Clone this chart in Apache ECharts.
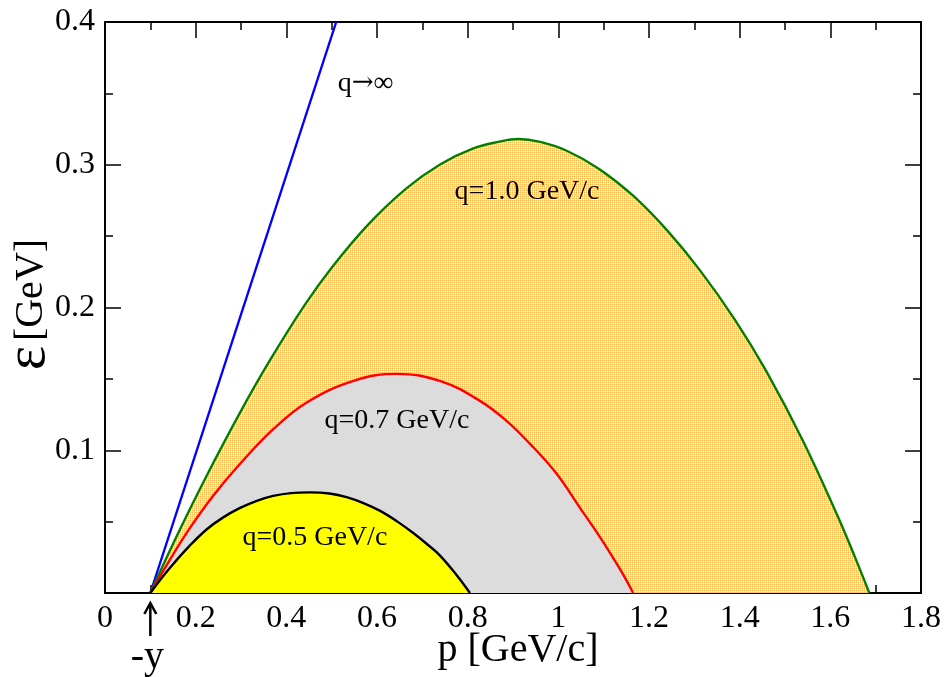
<!DOCTYPE html>
<html>
<head>
<meta charset="utf-8">
<script src="https://cdn.jsdelivr.net/npm/echarts@6/dist/echarts.min.js"></script>
<style>
  html, body { margin: 0; padding: 0; background: #fff; }
  #chart { width: 946px; height: 677px; }
</style>
</head>
<body>
<div id="chart"></div>
<script>
// Kinematic boundaries in the (p, epsilon) plane, values in GeV/c and GeV.
const qInfLine = [[0.1, 0], [0.51, 0.4]];
const q10Edge = [
  [0.1, 0], [0.16, 0.041], [0.224, 0.082], [0.30, 0.1276], [0.364, 0.1631],
  [0.44, 0.2015], [0.50, 0.2279], [0.58, 0.2579], [0.6655, 0.2836], [0.74, 0.3004],
  [0.8125, 0.3115], [0.87, 0.3162], [0.911, 0.318], [0.96, 0.316], [1.0185, 0.3098],
  [1.09, 0.2971], [1.165, 0.2783], [1.24, 0.254], [1.3125, 0.226], [1.39, 0.1912],
  [1.4596, 0.1549], [1.54, 0.1063], [1.617, 0.0532], [1.655, 0.0246], [1.686, 0]
];
const q07Edge = [
  [0.1, 0], [0.14, 0.0217], [0.1875, 0.0456], [0.24, 0.0687], [0.298, 0.0905],
  [0.37, 0.1144], [0.445, 0.1335], [0.55, 0.1488], [0.645, 0.1535], [0.74, 0.1484],
  [0.827, 0.1346], [0.885, 0.1208], [0.9375, 0.1045], [0.995, 0.084], [1.048, 0.0595],
  [1.09, 0.040], [1.121, 0.0245], [1.145, 0.0118], [1.165, 0]
];
const q05Edge = [
  [0.1, 0], [0.125, 0.0105], [0.151, 0.0205], [0.185, 0.0325], [0.224, 0.0445],
  [0.26, 0.0528], [0.298, 0.0596], [0.335, 0.0646], [0.371, 0.068], [0.41, 0.07],
  [0.452, 0.0705], [0.495, 0.0697], [0.533, 0.0672], [0.57, 0.063], [0.607, 0.0575],
  [0.645, 0.050], [0.680, 0.042], [0.712, 0.0338], [0.739, 0.0262], [0.775, 0.0128],
  [0.805, 0]
];

// Axis ranges and tick spacing.
const xRange = { min: 0, max: 1.8, step: 0.2 };
const yRange = { min: 0, max: 0.4, step: 0.1 };

// Curve captions, anchored in data coordinates.
const curveLabels = [
  { text: 'q{a|\u2192}\u221e', at: [0.575, 0.357] },
  { text: 'q=1.0 GeV/c', at: [0.931, 0.281] },
  { text: 'q=0.7 GeV/c', at: [0.644, 0.121] },
  { text: 'q=0.5 GeV/c', at: [0.463, 0.0385] }
];
const yMarker = { text: '-y', p: 0.1 };

const SERIF = '"Liberation Serif", "Times New Roman", Times, serif';

function dotPattern() {
  const c = document.createElement('canvas');
  c.width = 2; c.height = 2;
  const g = c.getContext('2d');
  g.fillStyle = '#ffffff'; g.fillRect(0, 0, 2, 2);
  g.fillStyle = '#ffb84d'; g.fillRect(0, 0, 1, 1);
  g.fillStyle = '#ffe0b0'; g.fillRect(1, 0, 1, 1); g.fillRect(0, 1, 1, 1);
  return c;
}

function frameAxis(pos, range, withLabels, fmt) {
  return {
    type: 'value',
    position: pos,
    min: range.min, max: range.max, interval: range.step,
    axisLine: { show: true, onZero: false, lineStyle: { color: '#000', width: 2 } },
    axisTick: { show: true, inside: true, length: 16, lineStyle: { color: '#000', width: 1.5 } },
    minorTick: { show: true, splitNumber: 2, length: 8, lineStyle: { color: '#000', width: 1.5 } },
    splitLine: { show: false },
    minorSplitLine: { show: false },
    axisLabel: {
      show: withLabels, color: '#000', fontFamily: SERIF, fontSize: 32, margin: 10,
      formatter: fmt
    }
  };
}

function areaSeries(data, fill) {
  return {
    type: 'line', data, smooth: 0.4, symbol: 'none',
    lineStyle: { width: 0, opacity: 0 },
    areaStyle: { color: fill, opacity: 1 },
    silent: true, z: 1
  };
}
function edgeSeries(data, color, smooth) {
  return {
    type: 'line', data, smooth: smooth ? 0.4 : false, symbol: 'none',
    lineStyle: { color, width: 2.4 }, silent: true, z: 3
  };
}

const chart = echarts.init(document.getElementById('chart'), null, { renderer: 'canvas' });

chart.setOption({
  animation: false,
  backgroundColor: '#fff',
  grid: { left: 105, right: 25, top: 22, bottom: 84, containLabel: false },
  xAxis: [
    frameAxis('bottom', xRange, true, v => String(+v.toFixed(2))),
    frameAxis('top', xRange, false)
  ],
  yAxis: [
    frameAxis('left', yRange, true, v => (v === 0 ? '' : String(+v.toFixed(2)))),
    frameAxis('right', yRange, false)
  ],
  series: [
    areaSeries(q10Edge, { image: dotPattern(), repeat: 'repeat' }),
    areaSeries(q07Edge, '#dcdcdc'),
    areaSeries(q05Edge, '#ffff00'),
    edgeSeries(qInfLine, '#0000ff', false),
    edgeSeries(q10Edge, '#008000', true),
    edgeSeries(q07Edge, '#ff0000', true),
    edgeSeries(q05Edge, '#000000', true)
  ]
});

// Captions, marker and axis titles.
const graphics = curveLabels.map(l => {
  const [x, y] = chart.convertToPixel({ xAxisIndex: 0, yAxisIndex: 0 }, l.at);
  return {
    type: 'text', x, y, z: 10,
    style: {
      text: l.text, fill: '#000', font: '28px ' + SERIF, align: 'center', verticalAlign: 'middle',
      rich: { a: { fontFamily: '"DejaVu Serif", serif', fontSize: 26, fill: '#000' } }
    }
  };
});

const mx = chart.convertToPixel({ xAxisIndex: 0 }, yMarker.p);
const tipY = 603;
graphics.push(
  { type: 'line', shape: { x1: mx, y1: tipY + 2, x2: mx, y2: 636 }, style: { stroke: '#000', lineWidth: 2.5 }, z: 10 },
  { type: 'polyline', shape: { points: [[mx - 6, tipY + 11], [mx, tipY], [mx + 6, tipY + 11]] },
    style: { stroke: '#000', lineWidth: 2.5, fill: null }, z: 10 },
  { type: 'text', x: mx - 3, y: 657, z: 10,
    style: { text: yMarker.text, fill: '#000', font: '40px ' + SERIF, align: 'center', verticalAlign: 'middle' } },
  { type: 'text', x: 518, y: 650, z: 10,
    style: { text: 'p [GeV/c]', fill: '#000', font: '40px ' + SERIF, align: 'center', verticalAlign: 'middle' } },
  { type: 'text', x: 31, y: 290, rotation: Math.PI / 2, z: 10,
    style: { text: '[GeV]', fill: '#000', font: '40px ' + SERIF, align: 'center', verticalAlign: 'middle' } },
  { type: 'text', x: 29, y: 358, rotation: Math.PI / 2, z: 10,
    style: { text: '\u03b5', fill: '#000', font: '58px ' + SERIF, align: 'center', verticalAlign: 'middle' } }
);

chart.setOption({ graphic: graphics });
</script>
</body>
</html>
